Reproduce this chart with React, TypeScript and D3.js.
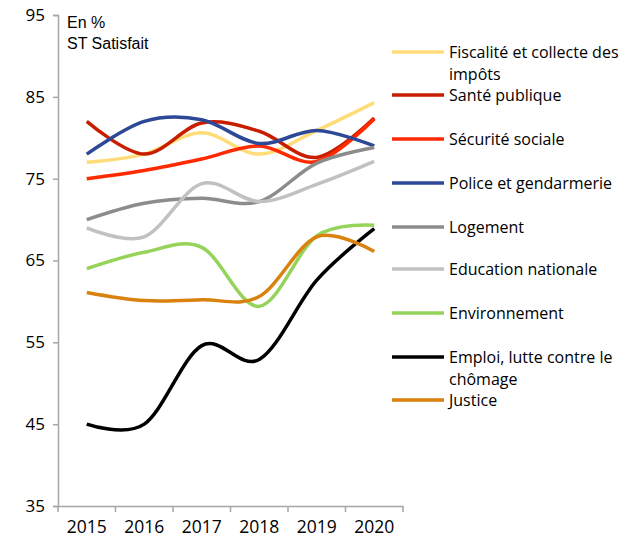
import * as d3 from "d3";
import { useEffect, useRef } from "react";

const years = ["2015", "2016", "2017", "2018", "2019", "2020"];
const yTicks = [35, 45, 55, 65, 75, 85, 95];

const names = [
  "Fiscalité et collecte des impôts",
  "Santé publique",
  "Sécurité sociale",
  "Police et gendarmerie",
  "Logement",
  "Education nationale",
  "Environnement",
  "Emploi, lutte contre le chômage",
  "Justice",
];
const legendLines = [
  ["Fiscalité et collecte des", "impôts"],
  ["Santé publique"],
  ["Sécurité sociale"],
  ["Police et gendarmerie"],
  ["Logement"],
  ["Education nationale"],
  ["Environnement"],
  ["Emploi, lutte contre le", "chômage"],
  ["Justice"],
];
const colors = ["#ffdc78", "#c81e00", "#ff2a00", "#2c4896", "#8c8c8c", "#c3c0c0", "#95d35a", "#000000", "#d9820d"];

const fiscalite = [77, 78, 80.6, 78, 80.9, 84.3];
const sante = [82, 78, 81.8, 80.8, 77.6, 82.4];
const securite = [75, 76, 77.4, 79, 77.1, 82.3];
const police = [78, 82, 82.2, 79.3, 80.9, 79];
const logement = [70, 72, 72.6, 72.2, 76.9, 78.8];
const education = [69, 67.9, 74.4, 72.2, 74.3, 77.1];
const environnement = [64, 66, 66.6, 59.4, 68, 69.3];
const emploi = [45, 45, 54.6, 52.9, 62.6, 68.9];
const justice = [61.1, 60.1, 60.2, 60.6, 67.9, 66.1];
const series = [fiscalite, sante, securite, police, logement, education, environnement, emploi, justice];

export default function App() {
  const ref = useRef<SVGSVGElement>(null);

  useEffect(() => {
    const svg = d3.select(ref.current);
    svg.selectAll("*").remove();

    const left = 58, right = 403, top = 15, bottom = 506;
    const x = d3.scaleBand().domain(years).range([left, right]);
    const y = d3.scaleLinear().domain([35, 95]).range([bottom, top]);
    const axisColor = "#a6a6a6";

    // y axis
    const ya = svg.append("g").attr("transform", `translate(${left},0)`)
      .call(d3.axisLeft(y).tickValues(yTicks).tickSize(5).tickPadding(8));
    ya.select(".domain").attr("stroke", axisColor).attr("stroke-width", 1.5);
    ya.selectAll(".tick line").attr("stroke", axisColor).attr("stroke-width", 1.5);
    ya.selectAll("text").attr("font-family", "Open Sans, sans-serif").attr("font-size", 17).attr("fill", "#000");

    // x axis
    const xa = svg.append("g").attr("transform", `translate(0,${bottom})`)
      .call(d3.axisBottom(x).tickSize(0).tickPadding(15));
    xa.select(".domain").attr("stroke", axisColor).attr("stroke-width", 1.5);
    xa.selectAll("text").attr("font-family", "Open Sans, sans-serif").attr("font-size", 17.5).attr("fill", "#000");
    const edges = [...years.map((d) => x(d)!), right];
    xa.selectAll(".edge").data(edges).join("line")
      .attr("x1", (d) => d).attr("x2", (d) => d)
      .attr("y1", 0).attr("y2", 6)
      .attr("stroke", axisColor).attr("stroke-width", 1.5);

    // lines
    const line = d3.line<number>()
      .x((_, i) => x(years[i])! + x.bandwidth() / 2)
      .y((d) => y(d))
      .curve(d3.curveCardinal.tension(0));
    svg.append("g").selectAll("path").data(series).join("path")
      .attr("d", (d) => line(d))
      .attr("fill", "none")
      .attr("stroke", (_, i) => colors[i])
      .attr("stroke-width", 3.5)
      .attr("aria-label", (_, i) => names[i]);

    // titles
    svg.append("text").attr("x", 67).attr("y", 28).text("En %")
      .attr("font-family", "Liberation Sans, Arial, sans-serif").attr("font-size", 16);
    svg.append("text").attr("x", 67).attr("y", 49).text("ST Satisfait")
      .attr("font-family", "Liberation Sans, Arial, sans-serif").attr("font-size", 16);

    // legend
    const legendY = [52, 95, 139, 183, 227, 269, 313, 357, 400];
    const lg = svg.append("g").selectAll("g").data(legendLines).join("g")
      .attr("transform", (_, i) => `translate(392,${legendY[i]})`);
    lg.append("line").attr("x1", 0).attr("x2", 52).attr("y1", 0).attr("y2", 0)
      .attr("stroke", (_, i) => colors[i]).attr("stroke-width", 3.5);
    lg.each(function (d) {
      const t = d3.select(this).append("text")
        .attr("font-family", "Open Sans, sans-serif").attr("font-size", 16).attr("fill", "#000");
      d.forEach((s, j) => {
        t.append("tspan").attr("x", 57).attr("y", 6 + j * 22).text(s);
      });
    });
  }, []);

  return <svg ref={ref} width={636} height={544} style={{ display: "block", margin: "-8px" }} />;
}
